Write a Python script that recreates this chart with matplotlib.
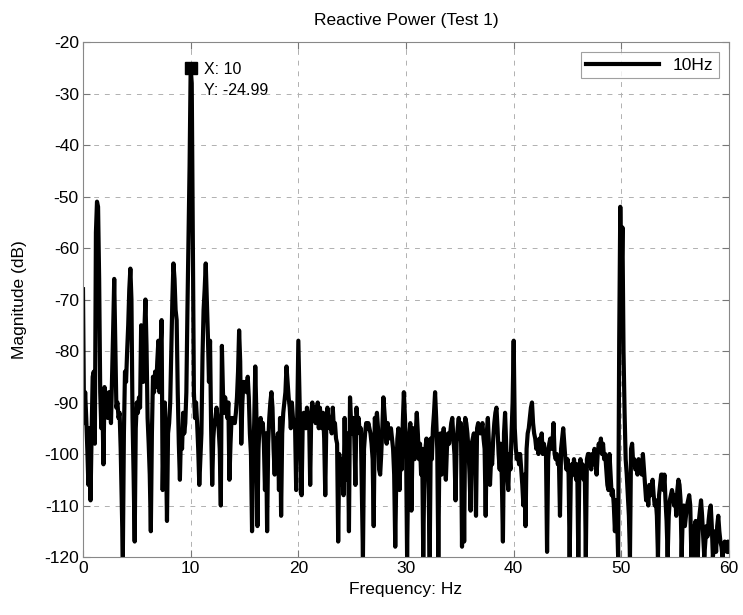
"""Reactive power spectrum (Test 1) - magnitude in dB vs frequency."""

import numpy as np
import matplotlib

matplotlib.use("Agg")
import matplotlib.pyplot as plt

plt.rcParams["font.family"] = ["Liberation Sans", "DejaVu Sans"]
plt.rcParams["axes.unicode_minus"] = False

# spectrum sampled every 0.1 Hz, one row per Hz (0.0 .. 59.9), then 60.0
freq_step = 0.1
magnitude_db = [
    -68, -94, -88, -93, -99, -106, -95, -109, -96, -85,
    -84, -98, -57, -51, -52, -66, -88, -95, -90, -102,
    -87, -92, -89, -93, -88, -91, -94, -85, -76, -66,
    -78, -91, -90, -93, -92, -99, -109, -120, -96, -84,
    -86, -80, -75, -68, -64, -70, -93, -104, -117, -95,
    -90, -92, -89, -91, -75, -80, -86, -76, -70, -79,
    -93, -98, -104, -115, -96, -85, -88, -84, -87, -82,
    -78, -88, -80, -74, -107, -95, -90, -98, -113, -96,
    -94, -90, -80, -70, -63, -66, -72, -74, -88, -98,
    -105, -96, -99, -92, -96, -94, -88, -72, -58, -44,
    -24.99, -28, -58, -88, -93, -90, -94, -99, -106, -101,
    -96, -81, -72, -68, -63, -70, -77, -86, -78, -95,
    -106, -97, -94, -93, -91, -93, -95, -99, -110, -79,
    -88, -92, -89, -91, -93, -90, -105, -98, -93, -94,
    -93, -94, -92, -89, -84, -76, -82, -98, -90, -86,
    -87, -86, -88, -85, -89, -96, -100, -115, -102, -94,
    -83, -92, -114, -99, -94, -93, -95, -94, -98, -107,
    -96, -115, -98, -93, -90, -88, -91, -99, -104, -97,
    -100, -96, -107, -93, -112, -96, -92, -90, -88, -83,
    -86, -89, -91, -95, -90, -93, -94, -95, -107, -92,
    -78, -88, -97, -108, -95, -92, -93, -95, -91, -94,
    -93, -106, -92, -90, -93, -91, -94, -92, -90, -95,
    -91, -93, -95, -92, -97, -108, -94, -91, -93, -95,
    -93, -96, -91, -95, -94, -97, -98, -117, -100, -104,
    -106, -101, -108, -93, -105, -97, -96, -115, -89, -94,
    -96, -93, -97, -106, -91, -94, -93, -96, -95, -108,
    -120, -99, -96, -94, -95, -94, -95, -96, -98, -101,
    -114, -93, -94, -92, -95, -103, -104, -100, -95, -89,
    -92, -95, -98, -94, -97, -96, -95, -97, -99, -104,
    -118, -104, -97, -95, -107, -99, -103, -94, -88, -93,
    -98, -120, -104, -97, -94, -111, -99, -95, -101, -96,
    -92, -96, -101, -98, -104, -99, -120, -103, -99, -97,
    -100, -107, -120, -97, -101, -95, -92, -88, -93, -99,
    -120, -100, -96, -104, -98, -95, -101, -105, -99, -96,
    -98, -96, -94, -93, -97, -100, -109, -98, -95, -93,
    -97, -94, -118, -95, -117, -93, -94, -96, -99, -104,
    -111, -98, -97, -96, -98, -112, -95, -94, -95, -96,
    -95, -94, -97, -99, -112, -96, -93, -98, -106, -101,
    -102, -97, -94, -92, -91, -95, -100, -103, -98, -105,
    -117, -96, -92, -98, -104, -107, -100, -103, -96, -90,
    -78, -95, -99, -101, -100, -102, -100, -103, -106, -110,
    -104, -114, -99, -96, -95, -93, -91, -90, -94, -96,
    -97, -99, -98, -100, -97, -99, -96, -100, -98, -99,
    -100, -119, -101, -98, -97, -99, -98, -94, -100, -101,
    -100, -102, -101, -112, -99, -97, -95, -98, -101, -103,
    -101, -104, -120, -105, -102, -104, -101, -103, -105, -102,
    -120, -103, -101, -104, -102, -105, -103, -120, -101, -100,
    -100, -101, -103, -100, -102, -99, -101, -104, -100, -98,
    -99, -97, -100, -98, -101, -100, -103, -106, -107, -100,
    -104, -108, -107, -110, -115, -109, -112, -120, -78, -52,
    -68, -56, -80, -92, -101, -104, -108, -112, -120, -99,
    -98, -102, -101, -103, -102, -104, -101, -103, -102, -104,
    -100, -103, -106, -109, -107, -110, -106, -108, -107, -105,
    -108, -110, -109, -112, -120, -108, -106, -104, -104, -107,
    -104, -109, -113, -120, -112, -109, -108, -107, -108, -110,
    -108, -112, -107, -105, -106, -109, -120, -112, -110, -114,
    -112, -110, -109, -108, -110, -120, -116, -120, -114, -113,
    -116, -120, -113, -111, -109, -112, -116, -120, -117, -114,
    -116, -113, -111, -110, -114, -120, -118, -115, -119, -114,
    -112, -115, -117, -118, -120, -118, -117, -118, -119, -117,
    -119,
]

x_ticks = [0, 10, 20, 30, 40, 50, 60]
y_ticks = [-120, -110, -100, -90, -80, -70, -60, -50, -40, -30, -20]
tip_x, tip_y = 10, -24.99

freq = np.arange(len(magnitude_db)) * freq_step
mag = np.asarray(magnitude_db, dtype=float)

fig = plt.figure(figsize=(7.43, 6.15), dpi=100)
ax = fig.add_axes([0.1117, 0.0943, 0.8695, 0.8374])

ax.plot(freq, mag, color="black", lw=3.0, label="10Hz")
ax.plot([tip_x], [tip_y], marker="s", ms=9, color="black", ls="none")
ax.text(tip_x + 1.2, tip_y + 1.2, f"X: {tip_x}\nY: {tip_y:.2f}", fontsize=11.5,
        va="top", ha="left", linespacing=1.5)

ax.set_xlim(0, 60)
ax.set_ylim(-120, -20)
ax.set_xticks(x_ticks)
ax.set_yticks(y_ticks)
ax.tick_params(direction="in", top=True, right=True, labelsize=12.5,
               length=5, color="#777777", pad=3)
ax.grid(True, color="#b0b0b0", ls=(0, (5, 6)), lw=0.7)
for s in ax.spines.values():
    s.set_color("#888888")
    s.set_linewidth(0.8)

ax.set_title("Reactive Power (Test 1)", fontsize=12.5, pad=12)
ax.set_xlabel("Frequency: Hz", fontsize=12.5, labelpad=4)
ax.set_ylabel("Magnitude (dB)", fontsize=12.5, labelpad=12)

leg = ax.legend(loc="upper right", fontsize=12.5, handlelength=4.2,
                fancybox=False, borderpad=0.3, borderaxespad=0.6,
                handletextpad=0.8)
leg.get_frame().set_edgecolor("#888888")
leg.get_frame().set_linewidth(0.8)

fig.savefig("out.png", dpi=100)
